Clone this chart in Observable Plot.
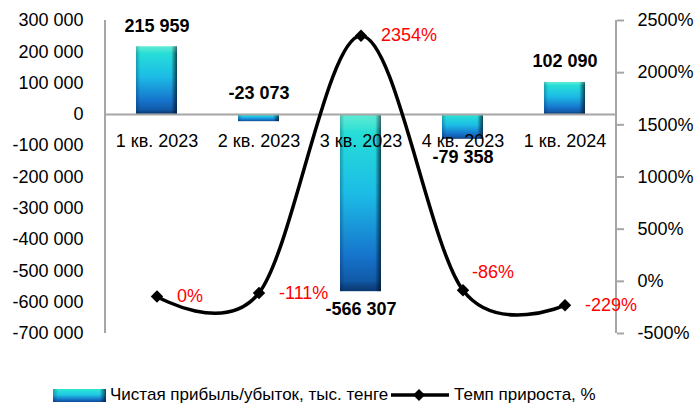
<!DOCTYPE html>
<html>
<head>
<meta charset="utf-8">
<script src="https://cdn.jsdelivr.net/npm/d3@7"></script>
<script src="https://cdn.jsdelivr.net/npm/@observablehq/plot@0.6"></script>
<style>
  body { margin: 0; background: #fff; font-family: "Liberation Sans", Arial, sans-serif; }
  #wrap { position: relative; width: 694px; height: 408px; overflow: hidden; }
  #legend { position: absolute; left: 0; top: 384px; width: 694px; height: 22px; font-size: 17px; color: #000; }
  .sw { position: absolute; top: 5px; width: 53px; height: 13px;
        background: linear-gradient(to bottom, #2ee8d0 0%, #1fc8e4 45%, #1468c0 85%, #0c4a90 100%); }
  .sw::after { content: ""; position: absolute; inset: 0;
        background: linear-gradient(to right, rgba(0,30,70,0.3) 0%, rgba(0,0,0,0) 10%, rgba(0,0,0,0) 88%, rgba(0,20,50,0.75) 100%); }
  .lt { position: absolute; top: 1px; white-space: nowrap; line-height: 20px; }
  .ln { position: absolute; top: 1px; }
</style>
</head>
<body>
<div id="wrap">
  <div id="chart"></div>
  <div id="legend">
    <div class="sw" style="left:53px"></div>
    <div class="lt" style="left:110px">Чистая прибыль/убыток, тыс. тенге</div>
    <svg class="ln" style="left:389px" width="62" height="20"><line x1="2" x2="60" y1="10" y2="10" stroke="#000" stroke-width="3.5"/><path d="M30,4 L36,10 L30,16 L24,10 Z" fill="#000"/></svg>
    <div class="lt" style="left:454px">Темп прироста, %</div>
  </div>
</div>
<script>
// ---- data ----
const quarters = ["1 кв. 2023", "2 кв. 2023", "3 кв. 2023", "4 кв. 2023", "1 кв. 2024"];
const profit = [215959, -23073, -566307, -79358, 102090];           // тыс. тенге
const growth = [-145, -111, 2354, -86, -229];                          // plotted %, right axis
const growthLabels = ["0%", "-111%", "2354%", "-86%", "-229%"];
const leftTicks = [300000, 200000, 100000, 0, -100000, -200000, -300000, -400000, -500000, -600000, -700000];
const rightTicks = [2500, 2000, 1500, 1000, 500, 0, -500];

// ---- helpers ----
const LMIN = -700000, LMAX = 300000, RMIN = -500, RMAX = 2500;
const toLeft = p => LMIN + (p - RMIN) * (LMAX - LMIN) / (RMAX - RMIN);
const fromLeft = v => RMIN + (v - LMIN) * (RMAX - RMIN) / (LMAX - LMIN);
const fmt = v => d3.format(",")(v).replace(/,/g, " ").replace("\u2212", "-");

const rows = quarters.map((q, i) => ({
  q, profit: profit[i], g: toLeft(growth[i]), gl: growthLabels[i], pl: fmt(profit[i]), i
}));

const axisColor = "#a6a6a6";

const defs = () => {
  const g = d3.create("svg:g");
  const d = g.append("defs");
  const v = d.append("linearGradient").attr("id", "barGrad").attr("x1", 0).attr("x2", 0).attr("y1", 0).attr("y2", 1);
  [[0, "#30e6c8"], [0.12, "#26dcd8"], [0.45, "#1cbce6"], [0.8, "#1674cc"], [1, "#0f4f98"]]
    .forEach(([o, c]) => v.append("stop").attr("offset", o).attr("stop-color", c));
  const h = d.append("linearGradient").attr("id", "bevel").attr("x1", 0).attr("x2", 1).attr("y1", 0).attr("y2", 0);
  [[0, "#002050", 0.3], [0.1, "#000000", 0], [0.86, "#000000", 0], [1, "#001830", 0.75]]
    .forEach(([o, c, a]) => h.append("stop").attr("offset", o).attr("stop-color", c).attr("stop-opacity", a));
  const t = d.append("linearGradient").attr("id", "bevelV").attr("x1", 0).attr("x2", 0).attr("y1", 0).attr("y2", 1);
  [[0, "#ffffff", 0.22], [0.07, "#ffffff", 0.1], [0.1, "#ffffff", 0], [0.94, "#000000", 0], [1, "#001030", 0.35]]
    .forEach(([o, c, a]) => t.append("stop").attr("offset", o).attr("stop-color", c).attr("stop-opacity", a));
  return g.node();
};

const axisLines = (index, scales, values, dims) => {
  const g = d3.create("svg:g").attr("stroke", axisColor).attr("stroke-width", 2);
  const y = scales.y;
  const xl = dims.marginLeft, xr = dims.width - dims.marginRight;
  g.append("line").attr("x1", xl).attr("x2", xl).attr("y1", y(LMAX)).attr("y2", y(LMIN));
  g.append("line").attr("x1", xr).attr("x2", xr).attr("y1", y(LMAX)).attr("y2", y(LMIN));
  return g.node();
};

const chart = Plot.plot({
  width: 694,
  height: 370,
  marginLeft: 105,
  marginRight: 78,
  marginTop: 20,
  marginBottom: 37,
  style: { fontFamily: "Liberation Sans, Arial, sans-serif", fontSize: "18px", color: "#000", background: "#fff", overflow: "visible" },
  x: { type: "band", domain: quarters, paddingInner: 0.6, paddingOuter: 0.3, axis: null },
  y: { domain: [LMIN, LMAX], axis: null },
  marks: [
    defs,
    Plot.barY(rows, { x: "q", y1: 0, y2: "profit", fill: "url(#barGrad)" }),
    Plot.barY(rows, { x: "q", y1: 0, y2: "profit", fill: "url(#bevel)" }),
    Plot.barY(rows, { x: "q", y1: 0, y2: "profit", fill: "url(#bevelV)" }),
    Plot.ruleY([0], { stroke: axisColor, strokeWidth: 2 }),
    axisLines,
    Plot.axisY({ anchor: "left", ticks: leftTicks, tickFormat: fmt, tickSize: 0, tickPadding: 22, fontSize: 18, fill: "#000" }),
    Plot.axisY({ anchor: "right", ticks: rightTicks.map(toLeft), tickFormat: v => Math.round(fromLeft(v)) + "%",
                 tickSize: 7, tickPadding: 14, stroke: axisColor, strokeWidth: 2, strokeOpacity: 1, fontSize: 18, fill: "#000" }),
    Plot.text(rows, { x: "q", y: () => 0, text: "q", dy: 27, fontSize: 18, fill: "#000" }),
    Plot.line(rows, { x: "q", y: "g", curve: "cardinal", stroke: "#000", strokeWidth: 3.5 }),
    Plot.dot(rows, { x: "q", y: "g", symbol: "diamond2", r: 5.6, fill: "#000", stroke: "none" }),
    Plot.text(rows, { filter: d => d.i !== 3, x: "q", y: "g", text: "gl", fill: "#ff0000", textAnchor: "start", dx: 20, fontSize: 18 }),
    Plot.text(rows, { filter: d => d.i === 3, x: "q", y: "g", text: "gl", fill: "#ff0000", textAnchor: "start", dx: 9, dy: -18, fontSize: 18 }),
    Plot.text(rows, { filter: d => d.profit > 0, x: "q", y: "profit", text: "pl", dy: -21, fontSize: 18, fontWeight: "bold", fill: "#000" }),
    Plot.text(rows, { filter: d => d.profit < 0 && d.i !== 1, x: "q", y: "profit", text: "pl", dy: 18, fontSize: 18, fontWeight: "bold", fill: "#000" }),
    Plot.text(rows, { filter: d => d.i === 1, x: "q", y: () => 0, text: "pl", dy: -21, fontSize: 18, fontWeight: "bold", fill: "#000" })
  ]
});
document.getElementById("chart").appendChild(chart);
</script>
</body>
</html>
